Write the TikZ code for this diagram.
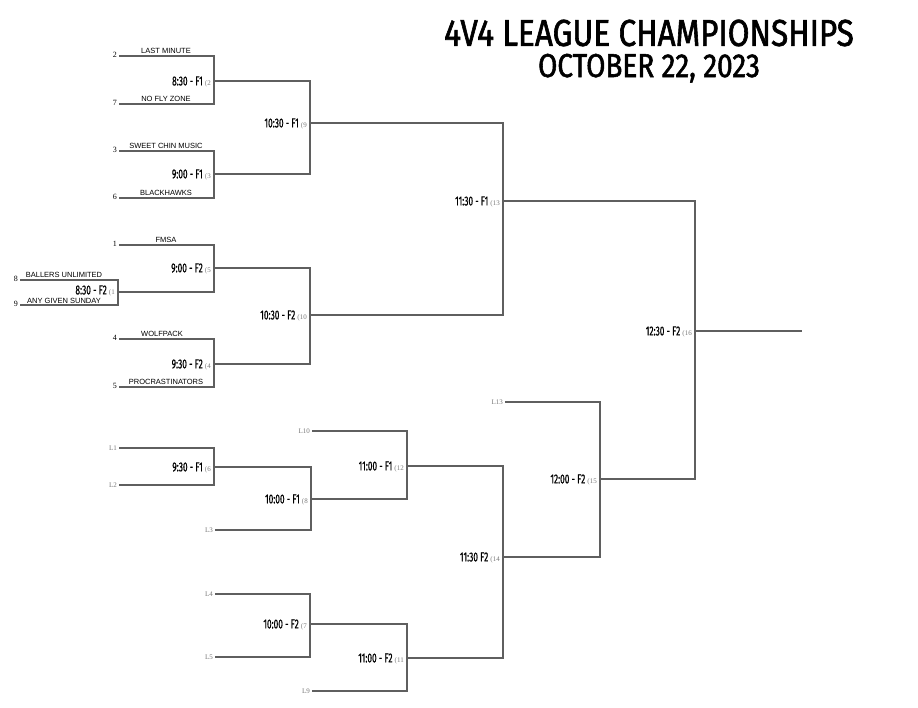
\documentclass[tikz,border=0pt]{standalone}
\usepackage{fontspec}
\usetikzlibrary{positioning}
\setmainfont{Liberation Serif}
\newfontfamily\teamfont{Liberation Sans}
\newfontfamily\timefont[FakeStretch=0.64,FakeBold=0.8]{Fira Sans}
\newfontfamily\titlefont[FakeStretch=0.84,FakeBold=1.6]{Fira Sans}
\definecolor{bracketgray}{RGB}{95,95,95}
\definecolor{labelgray}{RGB}{120,120,120}
\newcommand{\gameno}[1]{\,\smash{\rmfamily\fontsize{7}{8}\selectfont\color{labelgray}(#1}}

\begin{document}
\begin{tikzpicture}[x=1pt,y=-1pt,
    bracket/.style={draw=bracketgray, line width=1.1pt},
    seed/.style={font=\fontsize{8}{9}\selectfont, inner sep=0pt, yshift=1.5pt},
    team/.style={font=\teamfont\fontsize{7.5}{8}\selectfont, inner sep=0pt, anchor=south},
    loser/.style={font=\fontsize{7}{8}\selectfont, text=labelgray, inner sep=0pt},
    match/.style={font=\timefont\fontsize{13}{14}\selectfont, inner sep=0pt}]
    \useasboundingbox (0,0) rectangle (918,708);

    % Title
    \node[font=\titlefont\fontsize{37.5}{40}\selectfont, inner sep=0pt] (title) at (649,33) {4V4 LEAGUE CHAMPIONSHIPS};
    \node[font=\titlefont\fontsize{33.2}{35}\selectfont, inner sep=0pt, below=7pt of title] (date) {OCTOBER 22, 2023};

    % Seeded teams
    \coordinate (t2) at (119,56);
    \coordinate (t7) at (119,104);
    \coordinate (t3) at (119,151);
    \coordinate (t6) at (119,198);
    \coordinate (t1) at (119,245);
    \coordinate (t8) at (20,280);
    \coordinate (t9) at (20,305);
    \coordinate (t4) at (119,339);
    \coordinate (t5) at (119,387);

    % Losers bracket entries
    \coordinate (l1) at (119,448);
    \coordinate (l2) at (119,485);
    \coordinate (l3) at (215,530);
    \coordinate (l10) at (312,431);
    \coordinate (l4) at (215,594);
    \coordinate (l5) at (215,657);
    \coordinate (l9) at (312,691);
    \coordinate (l13) at (505,402);

    % Games
    \coordinate (m2) at (214,81);
    \coordinate (m3) at (214,174);
    \coordinate (m1) at (118,292);
    \coordinate (m5) at (214,268);
    \coordinate (m4) at (214,364);
    \coordinate (m9) at (310,123);
    \coordinate (m10) at (310,315);
    \coordinate (m13) at (503,201);
    \coordinate (m6) at (214,467);
    \coordinate (m8) at (311,499);
    \coordinate (m12) at (407,466);
    \coordinate (m7) at (310,624);
    \coordinate (m11) at (407,658);
    \coordinate (m14) at (503,557);
    \coordinate (m15) at (600,479);
    \coordinate (m16) at (695,331);
    \coordinate (champ) at (802,331);

    % Bracket lines
    \draw[bracket] (t2) -| (m2) |- (t7);
    \draw[bracket] (t3) -| (m3) |- (t6);
    \draw[bracket] (t8) -| (m1) |- (t9);
    \draw[bracket] (t1) -| (m5) |- (m1);
    \draw[bracket] (t4) -| (m4) |- (t5);
    \draw[bracket] (m2) -| (m9) |- (m3);
    \draw[bracket] (m5) -| (m10) |- (m4);
    \draw[bracket] (m9) -| (m13) |- (m10);
    \draw[bracket] (l1) -| (m6) |- (l2);
    \draw[bracket] (m6) -| (m8) |- (l3);
    \draw[bracket] (l10) -| (m12) |- (m8);
    \draw[bracket] (l4) -| (m7) |- (l5);
    \draw[bracket] (m7) -| (m11) |- (l9);
    \draw[bracket] (m12) -| (m14) |- (m11);
    \draw[bracket] (l13) -| (m15) |- (m14);
    \draw[bracket] (m13) -| (m16) |- (m15);
    \draw[bracket] (m16) -- (champ);

    % Seeds
    \node[seed, left=2pt of t2] {2};
    \node[seed, left=2pt of t7] {7};
    \node[seed, left=2pt of t3] {3};
    \node[seed, left=2pt of t6] {6};
    \node[seed, left=2pt of t1] {1};
    \node[seed, left=2pt of t8] {8};
    \node[seed, left=2pt of t9] {9};
    \node[seed, left=2pt of t4] {4};
    \node[seed, left=2pt of t5] {5};

    % Team names
    \node[team] at (166,54) {LAST MINUTE};
    \node[team] at (166,102) {NO FLY ZONE};
    \node[team] at (166,149) {SWEET CHIN MUSIC};
    \node[team] at (166,196) {BLACKHAWKS};
    \node[team] at (166,243) {FMSA};
    \node[team] at (64,278) {BALLERS UNLIMITED};
    \node[team] at (64,303.5) {ANY GIVEN SUNDAY};
    \node[team] at (162,337) {WOLFPACK};
    \node[team] at (166,385) {PROCRASTINATORS};

    % Losers labels
    \node[loser, left=2pt of l1] {L1};
    \node[loser, left=2pt of l2] {L2};
    \node[loser, left=2pt of l3] {L3};
    \node[loser, left=2pt of l10] {L10};
    \node[loser, left=2pt of l4] {L4};
    \node[loser, left=2pt of l5] {L5};
    \node[loser, left=2pt of l9] {L9};
    \node[loser, left=2pt of l13] {L13};

    % Game times
    \node[match, left=3pt of m2] {8:30 - F1\gameno{2}};
    \node[match, left=3pt of m3] {9:00 - F1\gameno{3}};
    \node[match, left=3pt of m1, yshift=2pt] {8:30 - F2\gameno{1}};
    \node[match, left=3pt of m5] {9:00 - F2\gameno{5}};
    \node[match, left=3pt of m4] {9:30 - F2\gameno{4}};
    \node[match, left=3pt of m9] {10:30 - F1\gameno{9}};
    \node[match, left=3pt of m10] {10:30 - F2\gameno{10}};
    \node[match, left=3pt of m13] {11:30 - F1\gameno{13}};
    \node[match, left=3pt of m6] {9:30 - F1\gameno{6}};
    \node[match, left=3pt of m8] {10:00 - F1\gameno{8}};
    \node[match, left=3pt of m12] {11:00 - F1\gameno{12}};
    \node[match, left=3pt of m7] {10:00 - F2\gameno{7}};
    \node[match, left=3pt of m11] {11:00 - F2\gameno{11}};
    \node[match, left=3pt of m14] {11:30 F2\gameno{14}};
    \node[match, left=3pt of m15] {12:00 - F2\gameno{15}};
    \node[match, left=3pt of m16] {12:30 - F2\gameno{16}};
\end{tikzpicture}
\end{document}
